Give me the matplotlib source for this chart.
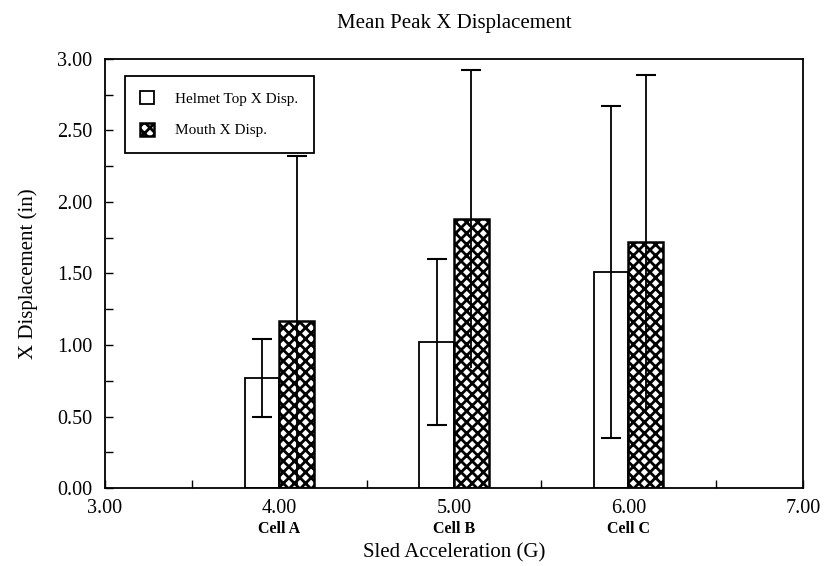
import numpy as np
import matplotlib
matplotlib.use("Agg")
import matplotlib.pyplot as plt
from matplotlib.ticker import MultipleLocator, FormatStrFormatter
import matplotlib.transforms as mtransforms

plt.rcParams['font.family'] = ['Liberation Serif', 'DejaVu Serif']
plt.rcParams['hatch.linewidth'] = 2.0

# data
accel = np.array([4.0, 5.0, 6.0])
cells = ['Cell A', 'Cell B', 'Cell C']
helmet = np.array([0.77, 1.02, 1.51])
helmet_err = np.array([0.27, 0.58, 1.16])
mouth = np.array([1.17, 1.88, 1.72])
mouth_err = np.array([1.15, 1.04, 1.17])

xticks = [3.0, 4.0, 5.0, 6.0, 7.0]
yticks = [0.0, 0.5, 1.0, 1.5, 2.0, 2.5, 3.0]

w = 0.2

fig = plt.figure(figsize=(8.24, 5.66), dpi=100)
ax = fig.add_axes([0.1274, 0.1378, 0.8471, 0.758])

ax.bar(accel - w / 2, helmet, width=w, color='white', edgecolor='black',
       linewidth=1.3, label='Helmet Top X Disp.', zorder=2)
ax.bar(accel + w / 2, mouth, width=w, color='white', edgecolor='black',
       hatch='xxx', linewidth=1.8, label='Mouth X Disp.', zorder=2)

ax.errorbar(accel - w / 2, helmet, yerr=helmet_err, fmt='none', ecolor='black',
            elinewidth=1.3, capsize=7, capthick=1.5, zorder=3)
eb = ax.errorbar(accel + w / 2, mouth, yerr=mouth_err, fmt='none', ecolor='black',
                 elinewidth=1.3, capsize=7, capthick=1.5, zorder=3)
# mouth bars only show the upper cap
eb[1][0].set_visible(False)

ax.set_xlim(3, 7)
ax.set_ylim(0, 3)
ax.set_xticks(xticks)
ax.set_yticks(yticks)
ax.xaxis.set_major_formatter(FormatStrFormatter('%.2f'))
ax.yaxis.set_major_formatter(FormatStrFormatter('%.2f'))
ax.xaxis.set_minor_locator(MultipleLocator(0.5))
ax.yaxis.set_minor_locator(MultipleLocator(0.25))
ax.tick_params(which='both', direction='in', length=6, width=1, labelsize=14.5)
ax.tick_params(axis='y', which='both', right=False, pad=9)
ax.tick_params(axis='x', which='both', top=False, pad=8)
for s in ax.spines.values():
    s.set_linewidth(1.3)

trans = mtransforms.blended_transform_factory(ax.transData, ax.transAxes)
for x, c in zip(accel, cells):
    ax.text(x, -0.078, c, transform=trans, ha='center', va='top',
            fontsize=11.5, fontweight='bold')

ax.set_title('Mean Peak X Displacement', fontsize=15, pad=22)
ax.set_xlabel('Sled Acceleration (G)', fontsize=15, labelpad=18)
ax.set_ylabel('X Displacement (in)', fontsize=15, labelpad=14)

leg = ax.legend(loc='upper left', bbox_to_anchor=(0.0287, 0.960), borderaxespad=0,
                fontsize=11, handlelength=0.9, handleheight=0.9, labelspacing=1.1,
                borderpad=1.0, handletextpad=1.4, fancybox=False,
                edgecolor='black', framealpha=1)
leg.get_frame().set_linewidth(1.3)

fig.savefig('out.png', dpi=100)
